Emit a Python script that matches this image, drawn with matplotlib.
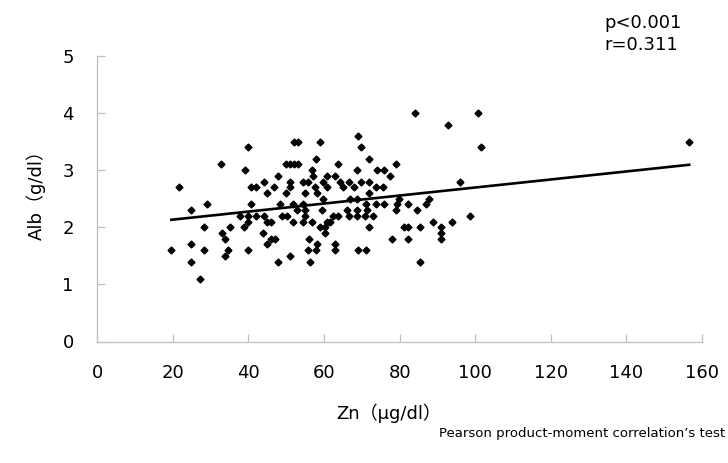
import matplotlib
matplotlib.use("Agg")
import matplotlib.pyplot as plt
import numpy as np

# Zn (ug/dl) and Alb (g/dl) values
zn = [39.8, 32.7, 39.0, 21.6, 44.0, 40.8, 42.0, 46.7, 47.7, 44.8,
      24.9, 28.9, 40.8, 37.8, 39.8, 42.0, 44.2, 40.0, 38.9, 44.8,
      46.0, 28.2, 35.0, 32.9, 33.8, 43.9, 45.9, 47.0, 44.8, 19.6,
      24.9, 28.2, 34.5, 39.8, 33.7, 24.9, 47.8, 27.2,
      68.9,
      52.0, 53.2, 58.8,
      69.9,
      57.8, 72.0,
      49.8, 51.0, 52.0, 53.2, 63.8, 79.0,
      56.7, 68.8, 74.1, 75.9,
      57.0, 60.7, 62.9, 77.4,
      51.0, 54.3, 55.8, 59.8, 64.2, 66.7, 69.9, 72.0,
      51.0, 57.6, 60.7, 65.1, 67.9, 73.7, 75.7,
      49.8, 54.9, 58.0, 72.0,
      59.8, 66.9, 68.8, 79.8,
      48.3, 51.9, 54.3, 71.1, 73.7, 75.9, 79.3, 82.2,
      52.9, 54.9, 59.4, 66.0, 68.6, 71.4, 79.0,
      49.0, 50.3, 54.9, 62.4, 63.8, 66.7, 68.6, 70.8, 72.9,
      51.9, 54.3, 56.9, 60.7, 61.6,
      58.9, 60.2, 72.0, 81.1, 82.1,
      60.2,
      56.0, 78.1, 82.1,
      58.2, 62.9,
      55.8, 57.9, 62.9, 68.9, 71.1,
      51.0,
      56.4,
      84.0, 100.8, 92.9, 101.5, 96.0, 87.8, 86.9, 84.5, 85.4, 88.9,
      90.9, 93.9, 98.6, 90.9, 90.9, 85.4,
      156.6]
alb = [3.4, 3.1, 3.0, 2.7, 2.8, 2.7, 2.7, 2.7, 2.9, 2.6,
       2.3, 2.4, 2.4, 2.2, 2.2, 2.2, 2.2, 2.1, 2.0, 2.1,
       2.1, 2.0, 2.0, 1.9, 1.8, 1.9, 1.8, 1.8, 1.7, 1.6,
       1.7, 1.6, 1.6, 1.6, 1.5, 1.4, 1.4, 1.1,
       3.6,
       3.5, 3.5, 3.5,
       3.4,
       3.2, 3.2,
       3.1, 3.1, 3.1, 3.1, 3.1, 3.1,
       3.0, 3.0, 3.0, 3.0,
       2.9, 2.9, 2.9, 2.9,
       2.8, 2.8, 2.8, 2.8, 2.8, 2.8, 2.8, 2.8,
       2.7, 2.7, 2.7, 2.7, 2.7, 2.7, 2.7,
       2.6, 2.6, 2.6, 2.6,
       2.5, 2.5, 2.5, 2.5,
       2.4, 2.4, 2.4, 2.4, 2.4, 2.4, 2.4, 2.4,
       2.3, 2.3, 2.3, 2.3, 2.3, 2.3, 2.3,
       2.2, 2.2, 2.2, 2.2, 2.2, 2.2, 2.2, 2.2, 2.2,
       2.1, 2.1, 2.1, 2.1, 2.1,
       2.0, 2.0, 2.0, 2.0, 2.0,
       1.9,
       1.8, 1.8, 1.8,
       1.7, 1.7,
       1.6, 1.6, 1.6, 1.6, 1.6,
       1.5,
       1.4,
       4.0, 4.0, 3.8, 3.4, 2.8, 2.5, 2.4, 2.3, 2.0, 2.1,
       2.0, 2.1, 2.2, 1.9, 1.8, 1.4,
       3.5]

# linear trend
trend_slope = 0.00703
trend_intercept = 1.994

x_ticks = [0, 20, 40, 60, 80, 100, 120, 140, 160]
y_ticks = [0, 1, 2, 3, 4, 5]
stats_text = "p<0.001\nr=0.311"
footnote = "Pearson product-moment correlation\u2019s test"
x_label = "Zn（μg/dl）"
y_label = "Alb（g/dl）"

fonts = ['DejaVu Sans', 'Noto Sans CJK JP']
plt.rcParams['font.family'] = fonts

fig = plt.figure(figsize=(7.28, 4.63), dpi=100)
ax = fig.add_axes([97.3 / 728, 1 - 341.5 / 463, (702 - 97.3) / 728, (341.5 - 56) / 463])

ax.plot(zn, alb, linestyle='none', marker='D', markersize=3.5,
        color='black', zorder=3)

tx = np.array([min(zn), max(zn)])
ax.plot(tx, trend_intercept + trend_slope * tx, color='black', linewidth=1.9, zorder=4)

ax.set_xlim(0, 160)
ax.set_ylim(0, 5)
ax.set_xticks(x_ticks)
ax.set_yticks(y_ticks)
ax.set_xticklabels([str(t) for t in x_ticks])
ax.set_yticklabels([str(t) for t in y_ticks])

for s in ['top', 'right']:
    ax.spines[s].set_visible(False)
for s in ['left', 'bottom']:
    ax.spines[s].set_color('#bfbfbf')
    ax.spines[s].set_linewidth(0.9)

ax.tick_params(axis='both', direction='in', length=5.5, width=0.9,
               color='#bfbfbf', labelsize=13, labelcolor='#000000')
ax.tick_params(axis='x', pad=16)
ax.tick_params(axis='y', pad=17)

ax.set_xlabel(x_label, fontsize=13, labelpad=16)
ax.set_ylabel(y_label, fontsize=13, labelpad=12)
ax.xaxis.label.set_x(0.482)
ax.yaxis.label.set_y(0.53)

fig.text(604 / 728, 1 - 14 / 463, stats_text, fontsize=13, ha='left', va='top',
         linespacing=1.3)
fig.text(725 / 728, 1 - 433 / 463, footnote, fontsize=9.5, ha='right', va='center')

fig.savefig('out.png', dpi=100)
